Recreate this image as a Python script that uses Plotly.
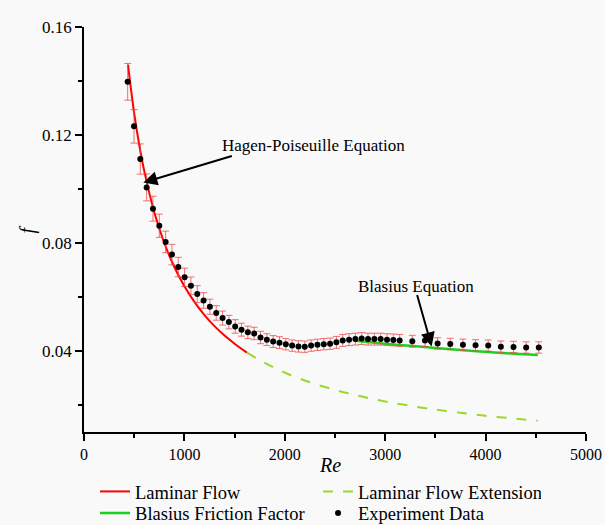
import plotly.graph_objects as go

# Laminar flow curve (f = 64/Re)
lam_re = [438, 500, 550, 600, 700, 800, 900, 1000, 1100, 1200, 1300, 1400, 1500, 1623]
lam_f = [0.1461, 0.1280, 0.1164, 0.1067, 0.0914, 0.0800, 0.0711, 0.0640, 0.0582, 0.0533, 0.0492, 0.0457, 0.0427, 0.0394]

# Laminar flow extension (dashed)
ext_re = [1623, 1800, 2000, 2250, 2500, 2750, 3000, 3250, 3500, 3750, 4000, 4250, 4520]
ext_f = [0.0394, 0.0356, 0.0320, 0.0284, 0.0256, 0.0233, 0.0213, 0.0197, 0.0183, 0.0171, 0.0160, 0.0151, 0.0142]

# Blasius friction factor
bl_re = [2700, 3000, 3250, 3500, 3750, 4000, 4250, 4520]
bl_f = [0.0438, 0.0427, 0.0419, 0.0411, 0.0404, 0.0397, 0.0391, 0.0385]

# Experiment data
exp_re = [435, 498, 561, 624, 687, 750, 813, 876, 939, 1002,
          1065, 1128, 1191, 1254, 1317, 1380, 1443, 1506, 1569, 1632,
          1695, 1758, 1821, 1884, 1947, 2010, 2073, 2136, 2199, 2262,
          2325, 2388, 2451, 2514, 2577, 2640, 2703, 2766, 2829, 2892,
          2955, 3018, 3081, 3144, 3270, 3396, 3522, 3648, 3774, 3900,
          4026, 4152, 4278, 4404, 4530]
exp_f = [0.1397, 0.1232, 0.1111, 0.1006, 0.0927, 0.0864, 0.0804, 0.0757, 0.0711, 0.0673,
         0.0642, 0.0611, 0.0587, 0.0564, 0.0541, 0.0522, 0.0507, 0.0491, 0.0479, 0.0469,
         0.0465, 0.0450, 0.0442, 0.0435, 0.0431, 0.0425, 0.0420, 0.0417, 0.0416, 0.0420,
         0.0423, 0.0425, 0.0427, 0.0432, 0.0439, 0.0442, 0.0444, 0.0446, 0.0444, 0.0444,
         0.0444, 0.0442, 0.0441, 0.0439, 0.0436, 0.0439, 0.0428, 0.0426, 0.0423, 0.0421,
         0.0420, 0.0416, 0.0415, 0.0413, 0.0413]
exp_err = [0.0068, 0.0062, 0.0056, 0.0050, 0.0046, 0.0043, 0.0040, 0.0038, 0.0036, 0.0034,
           0.0032, 0.0031, 0.0029, 0.0028, 0.0027, 0.0026, 0.0025, 0.0025, 0.0024, 0.0023,
           0.0023, 0.0023, 0.0022, 0.0022, 0.0022, 0.0021, 0.0021, 0.0021, 0.0021, 0.0021,
           0.0021, 0.0021, 0.0021, 0.0022, 0.0022, 0.0022, 0.0022, 0.0022, 0.0022, 0.0022,
           0.0022, 0.0022, 0.0022, 0.0022, 0.0022, 0.0022, 0.0021, 0.0021, 0.0021, 0.0021,
           0.0021, 0.0021, 0.0021, 0.0021, 0.0021]

FONT = "Liberation Serif, Times New Roman, serif"
BG = "#f9f9f9"

fig = go.Figure()
fig.add_trace(go.Scatter(x=lam_re, y=lam_f, mode="lines", name="Laminar Flow", legend="legend",
                         line=dict(color="#ff0000", width=2, shape="spline")))
fig.add_trace(go.Scatter(x=ext_re, y=ext_f, mode="lines", name="Laminar Flow Extension", legend="legend",
                         line=dict(color="#9bd82a", width=2, dash="10px,10px", shape="spline")))
fig.add_trace(go.Scatter(x=bl_re, y=bl_f, mode="lines", name="Blasius Friction Factor", legend="legend2",
                         line=dict(color="#1ed01e", width=2.5, shape="spline")))
fig.add_trace(go.Scatter(x=exp_re, y=exp_f, mode="markers", name="Experiment Data", legend="legend2",
                         marker=dict(color="black", size=6),
                         error_y=dict(type="data", array=exp_err, visible=True,
                                      color="rgba(235,70,70,0.75)", thickness=1, width=3.5)))

axis_common = dict(showline=True, linecolor="black", linewidth=1.5, ticks="outside",
                   ticklen=7, tickwidth=1.5, tickcolor="black", showgrid=False, zeroline=False,
                   mirror=False)

fig.update_xaxes(range=[0, 5000], dtick=1000, tick0=0,
                 tickfont=dict(family=FONT, size=16, color="black"),
                 minor=dict(dtick=500, ticks="outside", ticklen=4, tickwidth=1.5, tickcolor="black"),
                 **axis_common)
fig.update_yaxes(range=[0.01, 0.16], dtick=0.04, tick0=0, tickformat=".2f",
                 tickfont=dict(family=FONT, size=17, color="black"),
                 minor=dict(dtick=0.02, ticks="outside", ticklen=4, tickwidth=1.5, tickcolor="black"),
                 **axis_common)

annotations = [
    # axis titles
    dict(text="<i>Re</i>", xref="paper", yref="paper", x=0.49, y=0, yshift=-33,
         showarrow=False, font=dict(family=FONT, size=20, color="black"),
         xanchor="center", yanchor="middle"),
    dict(text="<i>f</i>", xref="paper", yref="paper", x=0, xshift=-57, y=0.5,
         showarrow=False, textangle=-90, font=dict(family=FONT, size=20, color="black"),
         xanchor="center", yanchor="middle"),
    # Hagen-Poiseuille label + arrow
    dict(text="Hagen-Poiseuille Equation", x=1355, y=0.1160, xref="x", yref="y",
         showarrow=False, xanchor="left", yanchor="middle",
         font=dict(family=FONT, size=17, color="black")),
    dict(text="", x=591, y=0.1024, xref="x", yref="y", ax=90, ay=-27,
         showarrow=True, arrowhead=2, arrowsize=1.4, arrowwidth=2, arrowcolor="black"),
    # Blasius label + arrow
    dict(text="Blasius Equation", x=3311, y=0.0639, xref="x", yref="y",
         showarrow=False, xanchor="center", yanchor="middle",
         font=dict(family=FONT, size=17, color="black")),
    dict(text="", x=3463, y=0.0417, xref="x", yref="y", ax=-15, ay=-53,
         showarrow=True, arrowhead=2, arrowsize=1.4, arrowwidth=2, arrowcolor="black"),
]

legend_common = dict(orientation="h", xanchor="left", yanchor="top",
                     entrywidth=178, entrywidthmode="pixels", bgcolor="rgba(0,0,0,0)",
                     font=dict(family=FONT, size=18.5, color="black"), traceorder="normal")

fig.update_layout(
    width=605, height=525,
    margin=dict(l=84, r=19, t=27, b=93, autoexpand=False),
    paper_bgcolor=BG, plot_bgcolor=BG,
    font=dict(family=FONT, size=16, color="black"),
    showlegend=True,
    legend=dict(x=0.022, y=-0.101, **legend_common),
    legend2=dict(x=0.022, y=-0.154, **legend_common),
    annotations=annotations,
)

fig.write_html("out.html", config={"displayModeBar": False})
